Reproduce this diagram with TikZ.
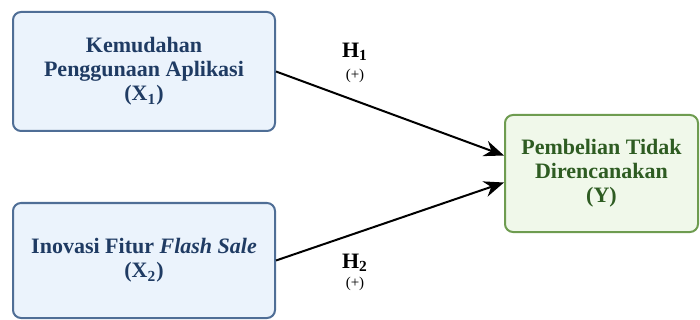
\documentclass[tikz,border=0pt]{standalone}
\usepackage{fontspec}
\setmainfont{Liberation Serif}
\usetikzlibrary{arrows.meta}
\definecolor{xline}{HTML}{4F6E96}
\definecolor{xfill}{HTML}{EBF3FC}
\definecolor{xtext}{HTML}{1F3B63}
\definecolor{yline}{HTML}{6E9C50}
\definecolor{yfill}{HTML}{F0F8EA}
\definecolor{ytext}{HTML}{2E5C22}
\tikzset{
	varbox/.style={draw=xline, fill=xfill, text=xtext, line width=1pt, rounded corners=4pt,
		align=center, inner sep=0pt, font=\bfseries\fontsize{11}{12}\selectfont},
	depbox/.style={varbox, draw=yline, fill=yfill, text=ytext},
	link/.style={line width=1pt, -{Stealth[length=10pt,width=8pt]}},
	hyp/.style={font=\bfseries\fontsize{11}{12}\selectfont},
	sign/.style={font=\fontsize{7.5}{8}\selectfont}
}
\begin{document}
\begin{tikzpicture}[x=0.5pt,y=-0.5pt]
	\useasboundingbox (0,0) rectangle (700,320);
	\node[varbox, minimum width=131pt, minimum height=59.5pt] (x1) at (144,71.5)
		{Kemudahan\\Penggunaan Aplikasi\\(X\textsubscript{1})};
	\node[varbox, minimum width=131pt, minimum height=57.5pt] (x2) at (144,260.5)
		{Inovasi Fitur \textit{Flash Sale}\\(X\textsubscript{2})};
	\node[depbox, minimum width=96.5pt, minimum height=58.5pt] (y) at (601.5,173.5)
		{Pembelian Tidak\\Direncanakan\\(Y)};
	\draw[link] (x1.east) -- ([yshift=9pt]y.west);
	\draw[link] (x2.east) -- ([yshift=-4.5pt]y.west);
	\node[hyp] (h1) at (355,52) {H\textsubscript{1}};
	\node[sign] (p1) at (355,76) {(+)};
	\node[hyp] (h2) at (355,263) {H\textsubscript{2}};
	\node[sign] (p2) at (355,284) {(+)};
\end{tikzpicture}
\end{document}
